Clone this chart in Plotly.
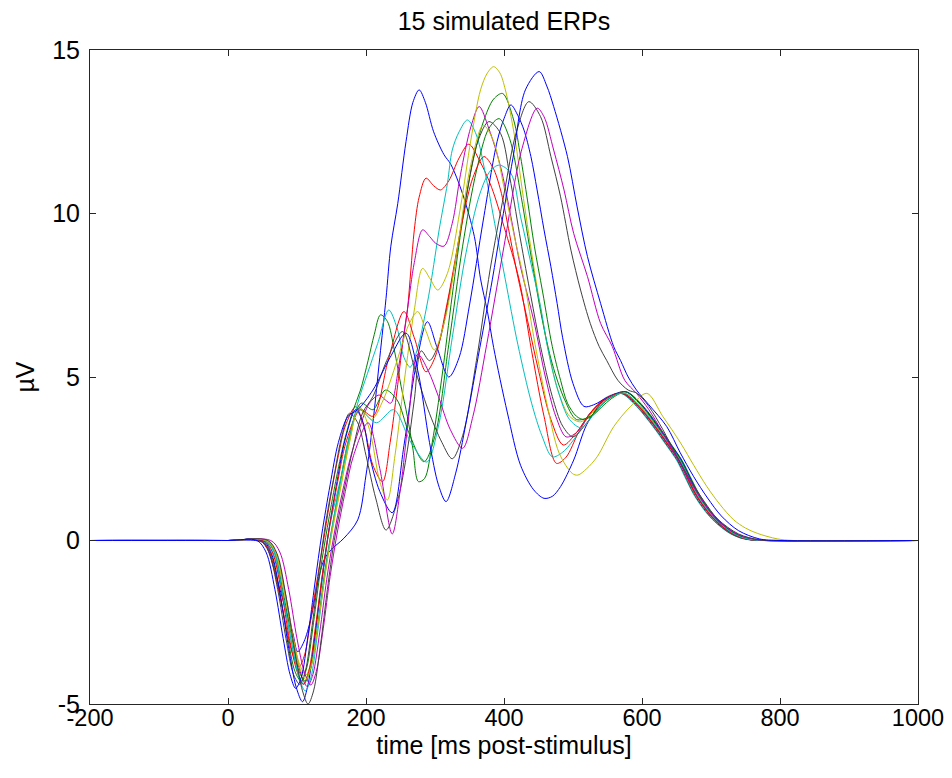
import plotly.graph_objects as go

# ---- data: 15 simulated ERPs (time in ms, amplitude in µV) ----
t_blue1 = [-200,-100,0,40,53,67,82,94,101,110,120,130,139,149,168,188,200,210,220,229,236,246,258,268,277,286,298,313,323,340,357,366,376,385,405,424,443,458,470,482,501,520,540,558,572,595,619,637,653,665,677,689,701,715,730,745,759,777,1000]
v_blue1 = [0,0,0,0,-0.09,-0.9,-2.0,-2.84,-3.4,-3.1,-2.4,-1.3,-0.6,-0.29,0.07,0.63,2.0,3.6,5.6,7.4,9.0,10.3,12.2,13.4,13.78,13.4,12.5,11.8,11.5,10.6,9.3,8.0,7.0,5.9,3.9,2.3,1.55,1.29,1.35,1.65,2.46,3.55,4.15,4.42,4.5,4.1,3.48,2.95,2.46,1.95,1.44,1.05,0.73,0.45,0.22,0.08,0.02,0,0]

t_green1 = [-200,-100,0,48,61,74,86,97,106,114,124,134,144,156,168,180,192,203,212,221,231,241,251,260,268,276,285,296,310,325,340,355,370,385,398,414,424,434,444,456,470,482,492,505,516,530,545,560,577,600,624,642,658,670,682,694,706,720,735,750,764,782,1000]
v_green1 = [0,0,0,0,-0.35,-1.5,-2.9,-4.0,-4.3,-3.9,-2.5,-0.9,0.4,1.8,3.0,3.9,4.6,5.5,6.3,6.9,6.7,5.83,4.7,3.79,2.8,1.8,1.9,3.0,5.0,7.5,9.8,11.6,12.8,13.5,13.67,12.86,11.74,10.41,9.0,7.6,5.93,4.9,4.2,3.8,3.7,3.85,4.15,4.4,4.55,4.15,3.5,2.95,2.45,1.95,1.45,1.05,0.73,0.45,0.22,0.08,0.02,0,0]

t_red1 = [-200,-100,0,46,59,71,83,94,103,111,120,130,140,150,160,170,185,198,210,224,235,245,253,260,265,270,277,287,298,308,320,335,349,365,382,400,422,440,458,476,490,508,528,550,573,596,620,638,654,666,678,690,702,716,731,746,760,778,1000]
v_red1 = [0,0,0,0,-0.3,-1.3,-2.5,-3.5,-3.86,-3.5,-2.4,-1.1,0.2,1.5,2.6,3.5,4.09,3.4,2.3,1.8,3.0,4.6,6.0,7.05,8.27,9.5,10.5,11.08,10.85,10.72,11.0,11.7,12.12,11.6,10.8,9.6,7.97,5.8,3.8,2.36,2.55,3.3,3.95,4.35,4.5,4.1,3.48,2.95,2.46,1.95,1.44,1.05,0.73,0.45,0.22,0.08,0.02,0,0]

t_cyan1 = [-200,-100,0,52,65,78,90,101,110,118,128,138,148,160,173,188,202,217,233,245,255,264,275,287,294,306,318,325,335,347,360,375,390,402,420,440,455,470,485,504,525,546,569,592,616,634,650,662,674,686,698,712,727,742,756,774,1000]
v_cyan1 = [0,0,0,0,-0.35,-1.5,-2.9,-4.0,-4.4,-4.0,-2.6,-1.0,0.5,1.6,2.77,4.2,5.1,6.03,7.05,6.5,5.6,5.3,5.9,7.05,7.87,9.5,10.92,11.94,12.5,12.86,12.4,11.0,9.3,7.97,6.0,4.2,3.2,2.56,2.7,3.17,3.9,4.35,4.5,4.1,3.48,2.95,2.46,1.95,1.44,1.05,0.73,0.45,0.22,0.08,0.02,0,0]

t_magenta1 = [-200,-100,0,56,69,82,95,106,115,123,133,143,153,165,177,190,205,219,228,236,248,260,270,282,292,301,313,325,337,352,364,378,395,410,424,443,460,475,490,505,525,548,572,595,619,637,653,665,677,689,701,715,730,745,759,777,1000]
v_magenta1 = [0,0,0,0,-0.35,-1.5,-3.0,-4.1,-4.47,-4.1,-2.8,-1.2,0.1,1.4,2.5,3.4,4.2,4.45,4.3,4.2,5.4,7.05,8.5,9.5,9.3,9.09,9.0,9.7,11.2,12.65,13.27,12.6,11.43,9.9,8.37,6.74,5.0,3.8,3.17,3.3,3.9,4.35,4.5,4.1,3.48,2.95,2.46,1.95,1.44,1.05,0.73,0.45,0.22,0.08,0.02,0,0]

t_yellow1 = [-200,-100,0,55,68,80,93,104,113,121,131,141,151,163,176,190,205,220,231,242,255,270,282,293,304,318,337,352,366,376,385,394,402,415,430,446,463,478,495,511,530,552,575,598,622,640,656,668,680,692,704,718,733,748,762,780,1000]
v_yellow1 = [0,0.03,0,0,-0.3,-1.4,-2.8,-3.8,-4.11,-3.7,-2.5,-1.0,0.3,1.6,3.0,4.1,3.4,1.8,1.24,2.6,4.8,7.05,8.32,8.0,7.66,8.17,10.2,12.25,13.78,14.3,14.49,14.3,13.78,12.4,10.2,8.0,5.93,4.6,3.8,3.63,3.95,4.35,4.5,4.1,3.48,2.95,2.46,1.95,1.44,1.05,0.73,0.45,0.22,0.08,0.02,0,0]

t_black1 = [-200,-100,0,46,59,72,84,95,104,112,122,132,142,154,165,176,188,200,214,229,246,260,270,280,292,305,325,345,362,378,395,410,424,439,453,470,485,500,520,545,570,593,617,635,651,663,675,687,699,713,728,743,757,775,1000]
v_black1 = [0,0,0,0,-0.35,-1.5,-3.0,-4.1,-4.4,-4.0,-2.6,-0.9,0.6,2.0,3.2,3.89,3.6,2.6,1.3,0.32,1.24,2.77,4.3,5.8,5.5,6.0,8.0,10.5,12.2,12.81,12.45,10.92,9.19,7.46,5.93,4.4,3.5,3.17,3.6,4.3,4.5,4.1,3.48,2.95,2.46,1.95,1.44,1.05,0.73,0.45,0.22,0.08,0.02,0,0]

t_blue2 = [-200,-100,0,50,63,76,88,99,108,116,126,136,146,158,170,185,196,205,220,238,255,272,289,303,320,335,350,370,390,400,410,420,429,439,448,458,468,477,485,500,516,530,552,576,599,623,641,657,669,681,693,705,719,734,749,763,781,1000]
v_blue2 = [0,0,0,0,-0.4,-1.7,-3.3,-4.5,-4.93,-4.4,-2.9,-1.2,0.3,1.8,3.1,4.0,3.6,2.6,1.5,0.85,2.9,5.3,6.69,5.9,5.0,5.6,7.2,9.8,12.2,12.9,13.32,13.0,12.55,11.74,10.72,9.5,8.37,7.25,6.2,4.8,4.1,4.15,4.4,4.55,4.15,3.5,2.95,2.46,1.95,1.44,1.05,0.73,0.45,0.22,0.08,0.02,0,0]

t_green2 = [-200,-100,0,54,67,79,92,103,112,120,130,140,150,162,175,193,210,228,245,262,284,300,320,340,360,378,393,408,425,440,455,470,488,505,525,550,575,598,622,640,656,668,680,692,704,718,733,748,762,780,1000]
v_green2 = [0,0,0,0,-0.35,-1.5,-2.9,-4.0,-4.3,-3.9,-2.6,-1.0,0.3,1.7,3.1,4.2,4.0,4.6,4.3,3.3,2.41,3.2,6.0,9.0,11.3,12.6,12.9,12.3,10.5,8.6,6.8,5.4,4.3,3.7,3.8,4.3,4.55,4.15,3.5,2.95,2.46,1.95,1.44,1.05,0.73,0.45,0.22,0.08,0.02,0,0]

t_red2 = [-200,-100,0,51,64,77,89,100,109,117,127,137,147,159,171,192,210,232,255,270,287,300,318,340,355,371,384,395,405,419,434,450,468,486,505,525,548,572,595,619,637,653,665,677,689,701,715,730,745,759,777,1000]
v_red2 = [0,0,0,0,-0.35,-1.5,-3.0,-4.0,-4.4,-4.0,-2.6,-1.0,0.4,1.8,3.0,4.0,3.8,5.5,7.0,6.2,5.16,5.6,7.3,9.8,11.1,11.74,11.4,10.72,9.7,8.17,6.74,5.2,3.7,2.92,3.3,3.9,4.35,4.5,4.1,3.48,2.95,2.46,1.95,1.44,1.05,0.73,0.45,0.22,0.08,0.02,0,0]

t_cyan2 = [-200,-100,0,54,67,79,92,103,112,120,130,140,150,162,175,190,215,240,265,288,305,325,345,365,380,393,410,424,439,453,463,478,495,512,530,552,575,597,621,639,655,667,679,691,703,717,732,747,761,779,1000]
v_cyan2 = [0,0.03,0,0,-0.35,-1.6,-3.1,-4.2,-4.6,-4.2,-2.8,-1.1,0.3,1.7,3.1,4.0,3.6,4.0,3.0,2.4,3.5,6.2,8.8,10.6,11.3,11.48,11.23,9.9,8.48,7.15,5.93,4.6,3.7,3.45,3.85,4.35,4.5,4.1,3.48,2.95,2.46,1.95,1.44,1.05,0.73,0.45,0.22,0.08,0.02,0,0]

t_magenta2 = [-200,-100,0,62,75,88,100,111,120,128,138,148,158,170,182,203,220,238,250,262,275,290,305,322,340,355,375,400,425,448,458,472,487,501,521,540,557,575,592,610,630,650,670,690,710,740,770,800,1000]
v_magenta2 = [0,0,0,0,-0.35,-1.5,-3.0,-4.05,-4.42,-4.0,-2.7,-1.1,0.2,1.5,2.6,3.6,2.2,0.2,1.6,3.8,5.7,5.2,4.4,3.4,2.82,3.8,6.0,9.0,11.9,13.22,12.96,11.94,10.72,9.39,8.07,6.64,5.93,4.9,4.5,4.0,3.3,2.55,1.8,1.15,0.6,0.18,0.02,0,0]

t_yellow2 = [-200,-100,0,55,68,80,93,104,113,121,131,141,151,163,176,190,208,225,245,262,275,287,299,315,335,352,370,385,400,415,429,445,462,480,499,507,520,535,559,583,607,630,656,675,694,713,733,750,767,796,820,1000]
v_yellow2 = [0,0.03,0,0,-0.3,-1.4,-2.9,-3.9,-4.25,-3.8,-2.5,-1.0,0.3,1.6,3.0,4.05,3.7,4.3,5.5,6.6,7.0,6.4,5.83,6.8,9.3,11.5,12.7,12.2,10.8,9.3,7.97,6.0,4.2,2.67,2.05,2.0,2.2,2.56,3.48,4.09,4.5,3.8,2.98,2.3,1.65,1.1,0.63,0.38,0.22,0.05,0,0]

t_black2 = [-200,-100,0,58,71,84,97,108,116,124,134,144,154,166,180,195,210,230,253,270,290,310,325,340,360,380,400,418,436,453,468,482,497,511,525,538,549,565,580,593,610,630,650,670,690,710,740,770,800,1000]
v_black2 = [0,0,0,0,-0.4,-1.7,-3.4,-4.6,-5.0,-4.6,-3.2,-1.5,0.0,1.3,2.7,3.9,4.4,5.5,6.39,5.3,4.0,3.0,2.5,3.2,5.5,8.3,10.6,12.5,13.42,12.96,11.74,10.51,8.88,7.66,6.64,5.93,5.5,4.9,4.6,4.5,4.1,3.4,2.6,1.85,1.2,0.65,0.2,0.02,0,0]

t_blue3 = [-200,-100,0,42,55,68,80,90,98,106,116,126,136,148,160,174,188,210,235,258,275,292,305,316,330,345,365,383,395,413,431,451,462,472,492,506,521,540,559,569,580,592,610,636,655,675,695,715,740,770,800,1000]
v_blue3 = [0,0,0,0,-0.35,-1.5,-3.0,-4.1,-4.52,-4.2,-2.9,-1.3,0.2,1.7,3.0,3.8,4.0,4.6,5.6,6.34,5.2,3.0,1.7,1.19,2.06,3.6,5.9,7.97,9.5,11.7,13.78,14.34,13.9,13.27,11.74,10.2,8.68,7.25,5.93,5.5,5.0,4.6,4.15,3.48,2.7,1.95,1.3,0.75,0.3,0.05,0,0]

x_tick_vals = [-200, 0, 200, 400, 600, 800, 1000]
x_tick_text = ["-200", "0", "200", "400", "600", "800", "1000"]
y_tick_vals = [-5, 0, 5, 10, 15]
y_tick_text = ["-5", "0", "5", "10", "15"]

# MATLAB classic colour order: b g r c m y k
series = [
    (t_blue1, v_blue1, "#0000FF"),
    (t_green1, v_green1, "#008000"),
    (t_red1, v_red1, "#FF0000"),
    (t_cyan1, v_cyan1, "#00BFBF"),
    (t_magenta1, v_magenta1, "#BF00BF"),
    (t_yellow1, v_yellow1, "#BFBF00"),
    (t_black1, v_black1, "#404040"),
    (t_blue2, v_blue2, "#0000FF"),
    (t_green2, v_green2, "#008000"),
    (t_red2, v_red2, "#FF0000"),
    (t_cyan2, v_cyan2, "#00BFBF"),
    (t_magenta2, v_magenta2, "#BF00BF"),
    (t_yellow2, v_yellow2, "#BFBF00"),
    (t_black2, v_black2, "#404040"),
    (t_blue3, v_blue3, "#0000FF"),
]

fig = go.Figure()
for i, (tt, vv, col) in enumerate(series):
    fig.add_trace(go.Scatter(
        x=tt, y=vv, mode="lines", name=f"ERP {i+1}",
        line=dict(color=col, width=1, shape="spline", smoothing=0.9),
        hoverinfo="x+y",
    ))

FONT = "Liberation Sans, Arial, Helvetica, sans-serif"
axis_common = dict(
    showline=True, linecolor="#262626", linewidth=1, mirror="ticks",
    ticks="inside", ticklen=6, tickcolor="#262626", tickwidth=1,
    showgrid=False, zeroline=False, automargin=False,
    ticklabeloverflow="allow",
)

# the page body adds an 8 px offset, so the figure is sized to fit the window
fig.update_layout(
    width=936, height=762,
    paper_bgcolor="white", plot_bgcolor="white",
    showlegend=False,
    margin=dict(l=82, r=26, t=42, b=66),
    font=dict(family=FONT, size=25, color="black"),
    title=dict(text="15 simulated ERPs", x=0.5, xref="paper", xanchor="center",
               y=1 - 13 / 762, yref="container", yanchor="middle",
               font=dict(family=FONT, size=25, color="black")),
    xaxis=dict(range=[-200, 1000], tickvals=x_tick_vals, ticktext=x_tick_text,
               ticklabelstandoff=-7,
               tickfont=dict(family=FONT, size=23.5, color="black"),
               title=dict(text="time [ms post-stimulus]", standoff=5,
                          font=dict(family=FONT, size=25, color="black")),
               **axis_common),
    yaxis=dict(range=[-5, 15], tickvals=y_tick_vals, ticktext=y_tick_text,
               ticklabelstandoff=4,
               tickfont=dict(family=FONT, size=25, color="black"),
               title=dict(text="µV", standoff=10,
                          font=dict(family=FONT, size=25, color="black")),
               **axis_common),
)

fig.write_html("out.html")
